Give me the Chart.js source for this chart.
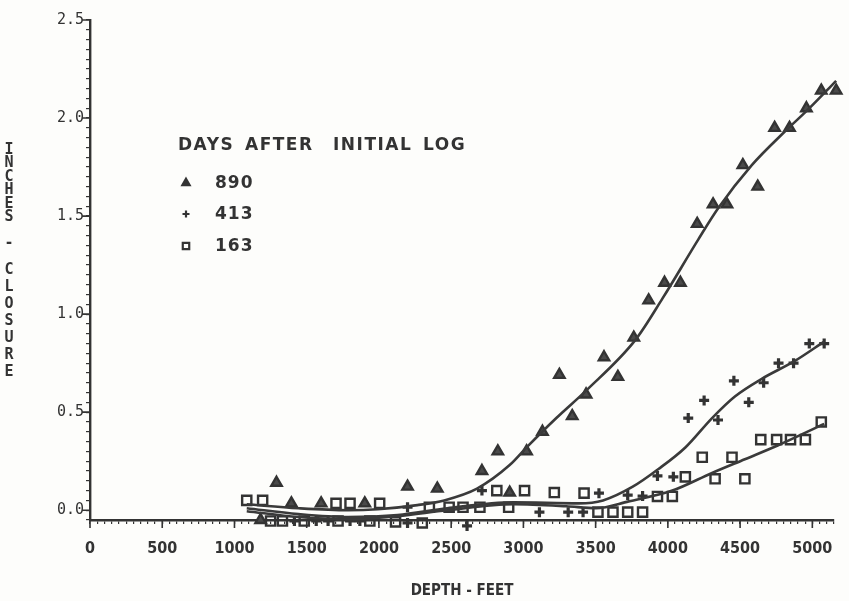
<!DOCTYPE html>
<html>
<head>
<meta charset="utf-8">
<script src="https://cdn.jsdelivr.net/npm/chart.js@4.4.1/dist/chart.umd.min.js"></script>
<style>
  html, body { margin: 0; padding: 0; background: #fdfdfb; }
  #wrap { width: 849px; height: 601px; }
</style>
</head>
<body>
<div id="wrap"><canvas id="closureChart"></canvas></div>
<script>
// measured points, 890 days after initial log (triangles)
const depth890 = [1181, 1291, 1394, 1600, 1902, 2198, 2404, 2713, 2823, 2905, 3022, 3132, 3249, 3338, 3434, 3558, 3654, 3764, 3867, 3977, 4087, 4203, 4313, 4409, 4519, 4622, 4739, 4842, 4959, 5062, 5165];
const closure890 = [-0.05, 0.14, 0.035, 0.035, 0.035, 0.12, 0.11, 0.20, 0.30, 0.09, 0.30, 0.40, 0.69, 0.48, 0.59, 0.78, 0.68, 0.88, 1.07, 1.16, 1.16, 1.46, 1.56, 1.56, 1.76, 1.65, 1.95, 1.95, 2.05, 2.14, 2.14];

// 413 days (plus)
const depth413 = [1415, 1566, 1648, 1800, 1868, 2198, 2198, 2610, 2713, 3111, 3310, 3413, 3523, 3722, 3825, 3928, 4038, 4141, 4251, 4347, 4457, 4560, 4663, 4766, 4870, 4979, 5082];
const closure413 = [-0.055, -0.055, -0.055, -0.055, -0.055, -0.065, 0.015, -0.08, 0.10, -0.01, -0.01, -0.01, 0.087, 0.077, 0.072, 0.175, 0.17, 0.47, 0.56, 0.46, 0.66, 0.55, 0.65, 0.75, 0.75, 0.85, 0.85];

// 163 days (squares)
const depth163 = [1085, 1195, 1250, 1332, 1483, 1703, 1717, 1800, 1937, 2005, 2115, 2300, 2349, 2486, 2582, 2699, 2816, 2898, 3008, 3104, 3214, 3310, 3420, 3516, 3620, 3722, 3825, 3928, 4031, 4121, 4238, 4327, 4444, 4533, 4643, 4753, 4849, 4952, 5062];
const closure163 = [0.05, 0.05, -0.055, -0.055, -0.055, 0.035, -0.055, 0.035, -0.055, 0.035, -0.06, -0.065, 0.015, 0.015, 0.015, 0.015, 0.10, 0.015, 0.10, -0.10, 0.09, -0.10, 0.087, -0.01, -0.01, -0.01, -0.01, 0.07, 0.07, 0.17, 0.27, 0.16, 0.27, 0.16, 0.36, 0.36, 0.36, 0.36, 0.45];

// fitted curves
const fitDepth890 = [1085, 1442, 1786, 1992, 2266, 2452, 2679, 2905, 3022, 3228, 3434, 3777, 3963, 4210, 4348, 4581, 4808, 4966, 5165];
const fitClosure890 = [0.03, 0.01, 0.0, 0.005, 0.026, 0.05, 0.11, 0.23, 0.32, 0.47, 0.61, 0.87, 1.08, 1.38, 1.54, 1.76, 1.93, 2.04, 2.19];
const fitDepth413 = [1085, 1442, 1786, 2129, 2473, 2933, 3386, 3551, 3757, 3935, 4121, 4306, 4464, 4650, 4876, 5082];
const fitClosure413 = [0.01, -0.02, -0.035, -0.025, 0.01, 0.04, 0.035, 0.05, 0.12, 0.21, 0.32, 0.47, 0.58, 0.67, 0.76, 0.86];
const fitDepth163 = [1085, 1442, 1786, 2129, 2473, 2933, 3297, 3503, 3729, 4031, 4306, 4533, 4760, 5082];
const fitClosure163 = [-0.005, -0.035, -0.046, -0.03, 0.0, 0.03, 0.02, 0.01, 0.045, 0.10, 0.19, 0.26, 0.33, 0.44];

const xTickValues = [0, 500, 1000, 1500, 2000, 2500, 3000, 3500, 4000, 4500, 5000];
const xTickLabels = ['0', '500', '1000', '1500', '2000', '2500', '3000', '3500', '4000', '4500', '5000'];
const yTickValues = [0, 0.5, 1, 1.5, 2, 2.5];
const yTickLabels = ['0.0', '0.5', '1.0', '1.5', '2.0', '2.5'];

const legendTitle = ['DAYS', 'AFTER', 'INITIAL', 'LOG'];
const legendDays = ['890', '413', '163'];
const yTitleWords = ['INCHES', '-', 'CLOSURE'];
const xTitle = 'DEPTH - FEET';

const ink = '#333333';

function toPoints(xs, ys){
  return xs.map((x, i) => ({ x, y: ys[i] }));
}

function tickLabel(value, values, labels){
  const idx = values.findIndex(v => Math.abs(v - value) < 1e-6);
  return idx >= 0 ? labels[idx] : '';
}

const markerStyles = [
  { pointStyle: 'triangle', radius: 6, fill: true },
  { pointStyle: 'cross', radius: 5, fill: false },
  { pointStyle: 'rect', radius: 6.5, fill: false }
];

// stacked y title, legend block and longer major ticks
const annotations = {
  id: 'annotations',
  afterDraw(chart){
    const ctx = chart.ctx;
    const xs = chart.scales.x;
    const ys = chart.scales.y;
    ctx.save();
    ctx.strokeStyle = ink;
    ctx.fillStyle = ink;

    ctx.lineWidth = 1.6;
    ctx.beginPath();
    yTickValues.forEach(v => {
      const py = ys.getPixelForValue(v);
      ctx.moveTo(ys.right, py);
      ctx.lineTo(ys.right - 8, py);
    });
    xTickValues.forEach(v => {
      const px = xs.getPixelForValue(v);
      ctx.moveTo(px, xs.top);
      ctx.lineTo(px, xs.top + 8);
    });
    ctx.stroke();

    // stacked vertical title
    ctx.font = 'bold 15px "DejaVu Sans Mono", monospace';
    ctx.textAlign = 'center';
    ctx.textBaseline = 'middle';
    const wordTop = [150, 243, 270];
    const pitch = [13.5, 0, 17];
    yTitleWords.forEach((w, i) => {
      [...w].forEach((ch, j) => ctx.fillText(ch, 9, wordTop[i] + j * pitch[i]));
    });

    ctx.textAlign = 'left';
    ctx.font = 'bold 17px "DejaVu Sans", sans-serif';
    ctx.letterSpacing = '1.5px';
    const wordX = [178, 245, 333, 423];
    legendTitle.forEach((w, i) => ctx.fillText(w, wordX[i], 146));

    ctx.letterSpacing = '1px';
    const rowY = [183, 214, 246];
    legendDays.forEach((label, i) => {
      const m = markerStyles[i];
      ctx.lineWidth = 2.2;
      ctx.fillStyle = m.fill ? ink : 'rgba(0,0,0,0)';
      Chart.helpers.drawPoint(ctx, {
        pointStyle: m.pointStyle,
        radius: m.radius * 0.7,
        rotation: 0,
        borderWidth: 2.2
      }, 186, rowY[i]);
      ctx.fillStyle = ink;
      ctx.fillText(label, 215, rowY[i] + 1);
    });
    ctx.letterSpacing = '0px';
    ctx.restore();
  }
};

function markerDataset(label, xs, ys, m){
  return {
    label,
    data: toPoints(xs, ys),
    pointStyle: m.pointStyle,
    pointRadius: m.radius,
    pointBorderWidth: m.pointStyle === 'cross' ? 3.2 : 2.4,
    pointBackgroundColor: m.fill ? '#4a4a4a' : 'rgba(0,0,0,0)',
    pointBorderColor: ink,
    showLine: false,
    clip: false
  };
}

function curveDataset(label, xs, ys){
  return {
    label,
    data: toPoints(xs, ys),
    showLine: true,
    borderColor: '#3a3a3a',
    borderWidth: 2.6,
    pointRadius: 0,
    tension: 0.45,
    cubicInterpolationMode: 'monotone',
    fill: false,
    clip: false
  };
}

new Chart(document.getElementById('closureChart'), {
  type: 'scatter',
  data: {
    datasets: [
      curveDataset('fit 890', fitDepth890, fitClosure890),
      curveDataset('fit 413', fitDepth413, fitClosure413),
      curveDataset('fit 163', fitDepth163, fitClosure163),
      markerDataset('890', depth890, closure890, markerStyles[0]),
      markerDataset('413', depth413, closure413, markerStyles[1]),
      markerDataset('163', depth163, closure163, markerStyles[2])
    ]
  },
  options: {
    responsive: true,
    maintainAspectRatio: false,
    animation: false,
    devicePixelRatio: 1,
    layout: {
      padding: { top: 20, right: 2, left: 0, bottom: 0 }
    },
    plugins: {
      legend: { display: false },
      tooltip: { enabled: false }
    },
    scales: {
      x: {
        type: 'linear',
        min: 0,
        max: 5150,
        afterFit(scale){ scale.height = 81; },
        border: { display: true, color: ink, width: 2.4 },
        grid: { drawOnChartArea: false, drawTicks: true, tickLength: 4, color: ink, lineWidth: 1.2 },
        ticks: {
          stepSize: 50,
          autoSkip: false,
          maxRotation: 0,
          padding: 15,
          color: ink,
          font: { family: '"Liberation Sans Narrow", "DejaVu Sans Condensed", sans-serif', size: 16, weight: 'bold' },
          callback: value => tickLabel(value, xTickValues, xTickLabels)
        },
        title: {
          display: true,
          text: xTitle,
          color: ink,
          padding: { top: 0, bottom: 1 },
          font: { family: '"DejaVu Sans Condensed", sans-serif', size: 15, weight: 'bold' }
        }
      },
      y: {
        type: 'linear',
        min: -0.05,
        max: 2.5,
        afterFit(scale){ scale.width = 90; },
        border: { display: true, color: ink, width: 2.4 },
        grid: { drawOnChartArea: false, drawTicks: true, tickLength: 4, color: ink, lineWidth: 1.2 },
        ticks: {
          stepSize: 0.05,
          autoSkip: false,
          padding: 2,
          color: ink,
          font: { family: '"DejaVu Sans Mono", monospace', size: 15 },
          callback: value => tickLabel(value, yTickValues, yTickLabels)
        }
      }
    }
  },
  plugins: [annotations]
});
</script>
</body>
</html>
